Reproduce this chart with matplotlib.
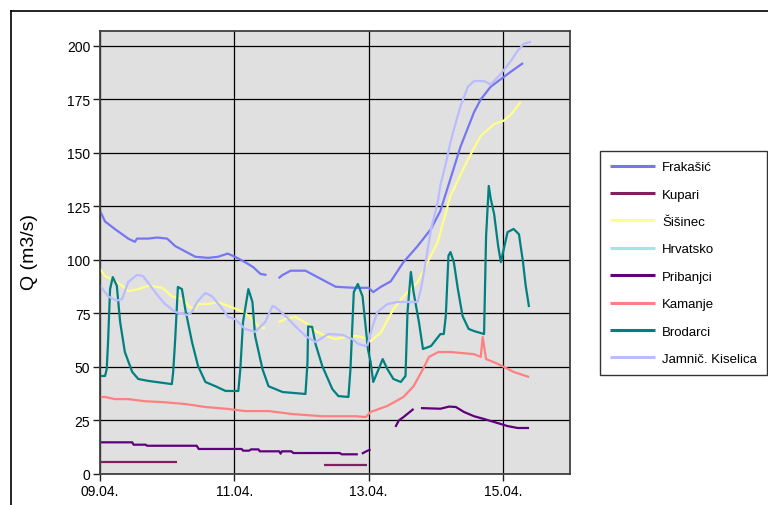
import numpy as np
import matplotlib
matplotlib.use("Agg")
import matplotlib.pyplot as plt
from matplotlib.lines import Line2D

nan = np.nan

# time in days after 09.04. 00:00
fraka_t = [0.0, 0.075, 0.22, 0.42, 0.52, 0.55, 0.72, 0.85, 1.00, 1.12, 1.27, 1.42, 1.61, 1.76, 1.90,
           2.01, 2.16, 2.28, 2.39, 2.48, nan, 2.66, 2.72, 2.84, 3.06, 3.21, 3.36, 3.51, 3.78, 4.00,
           4.07, 4.18, 4.33, 4.52, 4.73, 4.93, 5.07, 5.22, 5.37, 5.57, 5.67, 5.82, 5.97, 6.12, 6.30]
fraka_v = [123, 118, 114.5, 110, 108.5, 110, 110, 110.5, 110, 106.5, 104, 101.5, 101, 101.5, 103,
           101.5, 99, 96.7, 93.5, 93, nan, 91.5, 93, 95, 95, 92.5, 90, 87.5, 87, 87,
           85, 87.4, 90, 99, 106.5, 114.5, 123, 138, 153, 169, 175, 181, 184.5, 188, 192]

kupari_t = [0.0, 1.15, nan, 3.33, 3.97]
kupari_v = [5.5, 5.5, nan, 4.3, 4.3]

sisinec_t = [0.0, 0.075, 0.18, 0.33, 0.42, 0.57, 0.72, 0.93, 1.07, 1.22, 1.34, 1.42, 1.46, 1.61, 1.76,
             1.91, 2.12, 2.21, 2.36, 2.46, nan, 2.66, 2.76, 2.91, 3.01, 3.10, 3.21, 3.36, 3.51, 3.66,
             3.81, 3.96, 4.03, 4.10, 4.18, 4.37, 4.52, 4.73, 4.88, 5.03, 5.22, 5.48, 5.67, 5.87, 6.01,
             6.12, 6.27]
sisinec_v = [95.8, 92.5, 91, 88, 85.5, 86.4, 88, 87, 83, 81.8, 78, 77, 79.4, 79.4, 80.4,
             78.5, 76, 74, 69, 68, nan, 71, 72.4, 73.4, 71.5, 70, 66.8, 64.5, 63, 64,
             64.5, 63.5, 62, 64, 66, 77, 83, 89.7, 99, 108.4, 130, 147, 158, 163.5, 165,
             168, 174]

hrvatsko_t = []
hrvatsko_v = []

pribanjci_t = [0.0, 0.48, 0.50, 0.68, 0.70, 1.44, 1.47, 2.11, 2.13, 2.22, 2.25, 2.36, 2.38, 2.67, 2.69,
               2.71, 2.85, 2.88, 3.57, 3.60, 3.84, nan, 3.90, 3.96, 4.03, nan, 4.40, 4.45, 4.52, 4.67,
               nan, 4.78, 5.07, 5.20, 5.30, 5.42, 5.57, 5.72, 5.87, 6.07, 6.22, 6.39]
pribanjci_v = [14.8, 14.8, 13.7, 13.7, 13.2, 13.2, 11.7, 11.7, 10.9, 10.9, 11.5, 11.5, 10.6, 10.6, 9.5,
               10.6, 10.6, 9.8, 9.8, 9.2, 9.2, nan, 9.5, 10.5, 11.5, nan, 22, 25, 26.6, 30.4,
               nan, 30.8, 30.5, 31.5, 31.3, 29, 27, 25.7, 24.3, 22.4, 21.5, 21.5]

kamanje_t = [0.0, 0.075, 0.22, 0.42, 0.67, 0.93, 1.27, 1.57, 1.91, 2.16, 2.51, 2.87, 3.31, 3.81, 3.96,
             4.03, 4.28, 4.52, 4.67, 4.81, 4.90, 5.04, 5.22, 5.57, 5.67, 5.70, 5.75, 5.93, 6.16, 6.39]
kamanje_v = [36, 36, 35, 35, 34, 33.6, 32.7, 31.3, 30.4, 29.4, 29.4, 28, 27, 27, 26.6,
             29, 31.8, 36, 41, 49, 54.7, 57, 57, 56, 54.7, 64, 53.7, 51.4, 47.7, 45.3]

brodarci_t = [0.0, 0.075, 0.10, 0.12, 0.15, 0.19, 0.25, 0.30, 0.37, 0.48, 0.57, 0.72, 1.07, 1.09, 1.12,
              1.16, 1.22, 1.27, 1.37, 1.46, 1.57, 1.72, 1.87, 2.06, 2.09, 2.13, 2.21, 2.27, 2.31, 2.42,
              2.51, 2.72, 3.06, 3.09, 3.10, 3.16, 3.21, 3.31, 3.46, 3.55, 3.70, 3.73, 3.78, 3.84, 3.91,
              3.96, 3.99, 4.03, 4.07, 4.15, 4.21, 4.28, 4.37, 4.48, 4.55, 4.58, 4.63, 4.67, 4.75, 4.81,
              4.93, 5.07, 5.12, 5.15, 5.19, 5.22, 5.27, 5.33, 5.40, 5.49, 5.57, 5.72, 5.75, 5.79, 5.82,
              5.87, 5.93, 5.97, 6.07, 6.16, 6.24, 6.30, 6.34, 6.39]
brodarci_v = [45.8, 45.8, 49, 61.7, 86.4, 92, 88, 71, 57, 47.7, 44.4, 43.5, 42, 47.7, 63,
              87.4, 86.4, 77, 61.7, 50.5, 43, 41, 38.8, 38.8, 49, 71, 86.4, 80.4, 64.5, 49,
              41, 38.3, 37.4, 52, 69, 68.7, 60.7, 50.5, 39.7, 36.4, 36, 49, 85, 88.8, 83,
              67.8, 58.4, 52.3, 43, 49, 53.7, 49, 44.4, 43, 45.8, 75.7, 94.4, 85, 71, 58.4,
              59.8, 65.4, 65.4, 73.8, 102, 103.7, 99, 86.4, 73.8, 67.8, 66.8, 65.4, 111, 134.6, 128.5,
              121.5, 106.5, 99, 113, 114.5, 112, 99, 88, 78]

jamnic_t = [0.0, 0.12, 0.25, 0.33, 0.42, 0.55, 0.64, 0.75, 0.87, 0.97, 1.12, 1.30, 1.37, 1.46, 1.57,
            1.67, 1.79, 1.91, 2.01, 2.16, 2.31, 2.46, 2.57, 2.61, 2.76, 2.91, 3.06, 3.21, 3.40, 3.61,
            3.76, 3.85, 3.96, 3.99, 4.03, 4.13, 4.28, 4.43, 4.73, 4.78, 4.85, 4.93, 5.03, 5.07, 5.15,
            5.22, 5.27, 5.37, 5.48, 5.57, 5.72, 5.82, 5.97, 6.12, 6.22, 6.31, 6.42]
jamnic_v = [88, 83, 81, 81.8, 89.7, 93, 92.5, 88, 83, 79.4, 75.7, 74.3, 75.7, 81, 84.6,
            83, 78.5, 73.4, 72.4, 67.8, 66.4, 71, 78.5, 78, 74, 69, 64.5, 61.7, 65.4, 65,
            63, 60.7, 59.8, 60.7, 66, 75.7, 79.4, 80.4, 80.4, 86.4, 99, 114.5, 127, 135, 145,
            155, 161, 172, 181, 183.6, 183.6, 182, 187, 193, 197.7, 201, 202]

series = [
    ("Frakašić", fraka_t, fraka_v, "#7676F2"),
    ("Kupari", kupari_t, kupari_v, "#80205F"),
    ("Šišinec", sisinec_t, sisinec_v, "#FFFF88"),
    ("Hrvatsko", hrvatsko_t, hrvatsko_v, "#A0E6E6"),
    ("Pribanjci", pribanjci_t, pribanjci_v, "#5F007F"),
    ("Kamanje", kamanje_t, kamanje_v, "#FF8080"),
    ("Brodarci", brodarci_t, brodarci_v, "#008080"),
    ("Jamnič. Kiselica", jamnic_t, jamnic_v, "#BBBBFF"),
]

x_tick_pos = [0, 2, 4, 6]
x_tick_labels = ["09.04.", "11.04.", "13.04.", "15.04."]
y_ticks = [0, 25, 50, 75, 100, 125, 150, 175, 200]

plt.rcParams['font.family'] = ['Liberation Sans', 'DejaVu Sans']

fig = plt.figure(figsize=(7.68, 5.06), dpi=100)
ax = fig.add_axes([100/768, 1-475/506, 470/768, 443/506])
ax.set_facecolor("#E0E0E0")

for name, t, v, c in series:
    ax.plot(t, v, color=c, lw=1.6, label=name, solid_capstyle='butt')

ax.set_xlim(0, 7)
ax.set_ylim(0, 207)
ax.set_xticks(x_tick_pos)
ax.set_xticklabels(x_tick_labels)
ax.set_yticks(y_ticks)
ax.tick_params(axis='both', labelsize=10, length=5, width=1, color='#202020', direction='out', pad=2)
ax.grid(True, color='black', lw=0.9)
ax.set_axisbelow(True)
for s in ax.spines.values():
    s.set_color('#404040')
    s.set_linewidth(1.3)

ax.set_ylabel("Q (m3/s)", fontsize=14)
ax.yaxis.set_label_coords(-0.132, 0.503)

leg = fig.legend(loc='upper left', bbox_to_anchor=(600/768, 1-152/506), fontsize=9.5,
                 frameon=True, fancybox=False, edgecolor='black', handlelength=3.4,
                 handletextpad=0.55, labelspacing=1.15, borderpad=0.75, borderaxespad=0)
leg.get_frame().set_linewidth(1.0)
for h in leg.get_lines():
    h.set_linewidth(2.2)

# outer chart border (partially visible)
fig.add_artist(Line2D([11/768, 11/768], [0, 1-12/506], transform=fig.transFigure, color='black', lw=1.2))
fig.add_artist(Line2D([11/768, 1], [1-12/506, 1-12/506], transform=fig.transFigure, color='black', lw=1.2))

fig.savefig("out.png", dpi=100)
